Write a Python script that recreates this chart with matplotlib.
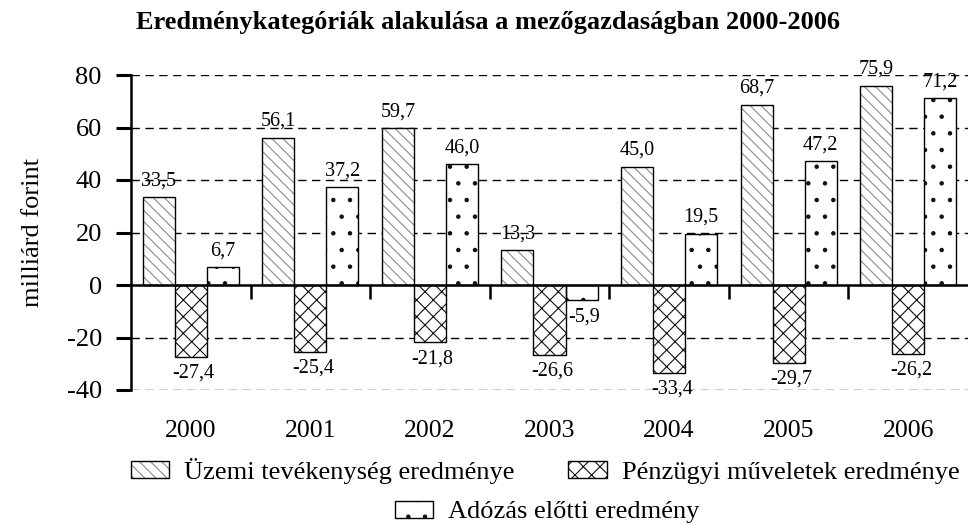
import matplotlib
matplotlib.use("Agg")
import matplotlib.pyplot as plt
import numpy as np
from matplotlib.patches import Patch
from matplotlib.legend_handler import HandlerTuple
import matplotlib.transforms as mtrans

years = ['2000', '2001', '2002', '2003', '2004', '2005', '2006']
uzemi = [33.5, 56.1, 59.7, 13.3, 45.0, 68.7, 75.9]
penzugyi = [-27.4, -25.4, -21.8, -26.6, -33.4, -29.7, -26.2]
adozas = [6.7, 37.2, 46.0, -5.9, 19.5, 47.2, 71.2]
series_names = ['Üzemi tevékenység eredménye', 'Pénzügyi műveletek eredménye',
                'Adózás előtti eredmény']
title = 'Eredménykategóriák alakulása a mezőgazdaságban 2000-2006'
ylabel = 'milliárd forint'
yticks = [-40, -20, 0, 20, 40, 60, 80]

plt.rcParams['font.family'] = ['Liberation Serif', 'DejaVu Serif']
plt.rcParams['hatch.linewidth'] = 0.8

fig = plt.figure(figsize=(9.68, 5.26), dpi=100)
ax = fig.add_axes([131/968, 1-390/526, 1-131/968, (390-75)/526])

x = np.arange(len(years))
w = 0.268
offsets = [-w, 0, w]
hatches = ['\\\\\\', 'xx', '.']
hatch_colors = ['#8a8a8a', '#111111', '#111111']
data = [uzemi, penzugyi, adozas]

handles = []
for vals, off, h, hc, name in zip(data, offsets, hatches, hatch_colors, series_names):
    ax.bar(x + off, vals, width=w, facecolor='white', edgecolor=hc, hatch=h,
           linewidth=0, zorder=2)
    ax.bar(x + off, vals, width=w, facecolor='none', edgecolor='black',
           linewidth=1.0, zorder=3)
    for xi, v in zip(x + off, vals):
        s = f'{v:.1f}'.replace('.', ',')
        if v >= 0:
            ax.annotate(s, (xi, v), xytext=(0, 5), textcoords='offset points',
                        ha='center', va='bottom', fontsize=14.5,
                        annotation_clip=False)
        else:
            ax.annotate(s, (xi, v), xytext=(2, -5), textcoords='offset points',
                        ha='center', va='top', fontsize=14.5,
                        annotation_clip=False)
    hp = Patch(facecolor='white', edgecolor=hc, hatch=h, linewidth=0)
    bp = Patch(facecolor='none', edgecolor='black', linewidth=1.0)
    handles.append((hp, bp))

ax.set_xlim(-0.5, len(years) - 0.5)
ax.set_ylim(-40, 80)
ax.set_yticks(yticks)
ax.set_yticklabels([str(t) for t in yticks], fontsize=19)
for t in yticks:
    if t != 0:
        ax.axhline(t, color='black', linestyle=(0, (6, 4)), linewidth=1.0, zorder=1)

ax.spines['top'].set_visible(False)
ax.spines['right'].set_visible(False)
ax.spines['left'].set_linewidth(1.8)
ax.spines['bottom'].set_position(('data', 0))
ax.spines['bottom'].set_linewidth(1.8)
ax.spines['bottom'].set_zorder(4)
ax.tick_params(axis='y', length=11, width=2.2, direction='out', pad=10)
ax.set_xticks(x[1:] - 0.5)
ax.set_xticklabels([])
ax.tick_params(axis='x', length=10, width=1.8, direction='out')

trans = mtrans.blended_transform_factory(ax.transData, fig.transFigure)
for xi, yr in zip(x, years):
    ax.text(xi, 1 - 431/526, yr, transform=trans, ha='center', va='center',
            fontsize=18.5)

ax.set_ylabel(ylabel, fontsize=19, labelpad=16)
fig.text(488/968, 1-23/526, title, ha='center', va='center', fontsize=19,
         fontweight='bold')

common = dict(frameon=False, fontsize=19,
              handler_map={tuple: HandlerTuple(ndivide=1)},
              handlelength=1.45, handleheight=0.64, handletextpad=0.57,
              borderpad=0.0, borderaxespad=0.0)
leg1 = fig.legend(handles[:2], series_names[:2], ncol=2, loc='center',
                  bbox_to_anchor=(545/968, 1-471/526), columnspacing=2.05,
                  **common)
leg2 = fig.legend([handles[2]], [series_names[2]], loc='center',
                  bbox_to_anchor=(547/968, 1-512/526), **common)

fig.savefig('out.png', dpi=100)
